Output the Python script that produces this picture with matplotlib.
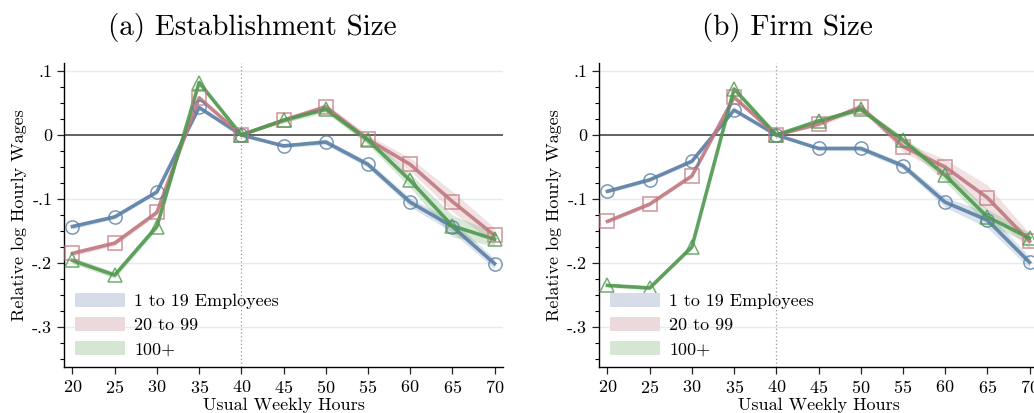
import matplotlib
matplotlib.use("Agg")
import matplotlib.pyplot as plt
import numpy as np
from matplotlib.patches import Patch
from matplotlib.ticker import MultipleLocator

plt.rcParams["font.family"] = ["cmr10", "DejaVu Serif"]
plt.rcParams["mathtext.fontset"] = "cm"
plt.rcParams["axes.unicode_minus"] = False
plt.rcParams["axes.formatter.use_mathtext"] = True

hours = [20, 25, 30, 35, 40, 45, 50, 55, 60, 65, 70]
labels = ["1 to 19 Employees", "20 to 99", "100+"]
yticks = [0.1, 0, -0.1, -0.2, -0.3]
ytick_labels = [".1", "0", "-.1", "-.2", "-.3"]

# (a) establishment size
est_small = [-0.143, -0.128, -0.089, 0.043, 0.0, -0.017, -0.011, -0.046, -0.105, -0.143, -0.201]
est_mid = [-0.185, -0.169, -0.121, 0.058, 0.0, 0.023, 0.044, -0.007, -0.046, -0.104, -0.157]
est_large = [-0.196, -0.219, -0.143, 0.082, 0.0, 0.023, 0.040, -0.008, -0.071, -0.142, -0.163]
est_small_ci = [0.004, 0.003, 0.003, 0.003, 0.0, 0.003, 0.004, 0.005, 0.007, 0.009, 0.008]
est_mid_ci = [0.004, 0.004, 0.004, 0.004, 0.0, 0.004, 0.005, 0.007, 0.010, 0.016, 0.012]
est_large_ci = [0.005, 0.005, 0.005, 0.005, 0.0, 0.004, 0.005, 0.007, 0.011, 0.017, 0.011]

# (b) firm size
firm_small = [-0.088, -0.070, -0.041, 0.039, 0.0, -0.021, -0.021, -0.048, -0.105, -0.133, -0.199]
firm_mid = [-0.135, -0.108, -0.064, 0.059, 0.0, 0.017, 0.044, -0.018, -0.050, -0.098, -0.166]
firm_large = [-0.235, -0.239, -0.175, 0.072, 0.0, 0.022, 0.040, -0.008, -0.063, -0.128, -0.161]
firm_small_ci = [0.003, 0.003, 0.003, 0.003, 0.0, 0.003, 0.004, 0.005, 0.008, 0.012, 0.009]
firm_mid_ci = [0.003, 0.003, 0.003, 0.003, 0.0, 0.004, 0.005, 0.008, 0.012, 0.020, 0.012]
firm_large_ci = [0.003, 0.003, 0.003, 0.003, 0.0, 0.003, 0.004, 0.006, 0.010, 0.012, 0.008]

colors = ["#5a7fa6", "#c07980", "#4f994f"]
band_colors = ["#d6dde8", "#ecd9db", "#d5e6d2"]
markers = ["o", "s", "^"]


def draw_panel(ax, title, series, cis):
    for v in [0.1, -0.1, -0.2, -0.3]:
        ax.axhline(v, color="#e4edee", lw=1.0, zorder=0)
    ax.axhline(0, color="#555555", lw=1.3, zorder=1)
    ax.axvline(40, color="#999999", lw=0.9, ls=(0, (1, 2)), zorder=1)

    for vals, ci, c, m in zip(series, cis, colors, markers):
        vals = np.array(vals)
        ci = np.array(ci)
        ax.fill_between(hours, vals - ci, vals + ci, color=c, alpha=0.22, lw=0, zorder=2)
        ax.plot(hours, vals, color=c, lw=2.6, alpha=0.9, zorder=3)
        ax.plot(hours, vals, ls="none", marker=m, ms=9.5, mfc="none", mec=c,
                mew=1.1, alpha=0.8, zorder=4)

    ax.set_xlim(19, 71)
    ax.set_ylim(-0.3625, 0.1125)
    ax.set_xticks(hours)
    ax.set_yticks(yticks)
    ax.set_yticklabels(ytick_labels)
    ax.yaxis.set_minor_locator(MultipleLocator(0.025))
    ax.tick_params(axis="both", labelsize=13, length=5, width=0.9, color="#222222")
    ax.tick_params(axis="y", which="minor", length=3, width=0.8)
    for s in ["top", "right"]:
        ax.spines[s].set_visible(False)
    ax.spines["left"].set_linewidth(1.0)
    ax.spines["bottom"].set_linewidth(1.0)
    ax.set_xlabel("Usual Weekly Hours", fontsize=13, labelpad=1)
    ax.set_ylabel("Relative log Hourly Wages", fontsize=13, labelpad=4)
    ax.set_title(title, fontsize=21, pad=20, x=0.43)

    handles = [Patch(facecolor=bc, edgecolor="none") for bc in band_colors]
    ax.legend(handles, labels, loc="lower left", bbox_to_anchor=(0.0, -0.005),
              frameon=False, fontsize=13, handlelength=2.8, handleheight=0.8,
              labelspacing=0.45, handletextpad=0.5, borderaxespad=0.2)


fig = plt.figure(figsize=(10.34, 4.13), dpi=100)
ax1 = fig.add_axes([0.0619, 0.1114, 0.4246, 0.7361])
ax2 = fig.add_axes([0.5793, 0.1114, 0.4246, 0.7361])

draw_panel(ax1, "(a) Establishment Size", [est_small, est_mid, est_large],
           [est_small_ci, est_mid_ci, est_large_ci])
draw_panel(ax2, "(b) Firm Size", [firm_small, firm_mid, firm_large],
           [firm_small_ci, firm_mid_ci, firm_large_ci])

fig.savefig("out.png", dpi=100)
